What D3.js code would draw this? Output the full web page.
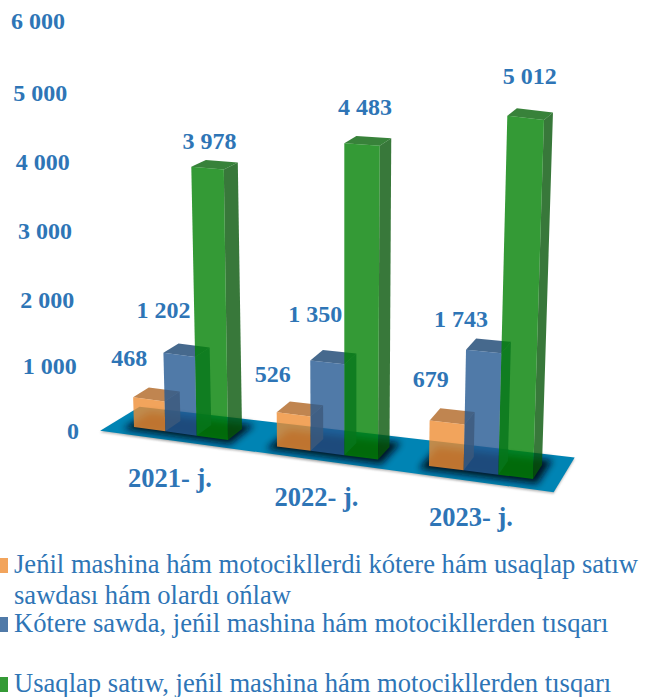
<!DOCTYPE html>
<html>
<head>
<meta charset="utf-8">
<script src="https://cdn.jsdelivr.net/npm/d3@7"></script>
<style>
body { margin: 0; background: #fff; }
text { font-family: "Liberation Serif", serif; fill: #2e75b6; }
.bold { font-weight: bold; }
</style>
</head>
<body>
<div id="chart"></div>
<script>
const years = ["2021- j.", "2022- j.", "2023- j."]
const orangeValues = [468, 526, 679]
const blueValues = [1202, 1350, 1743]
const greenValues = [3978, 4483, 5012]
const axisTicks = [0, 1000, 2000, 3000, 4000, 5000, 6000]
const legendLines = [
    ["Jeńil mashina hám motocikllerdi kótere hám usaqlap satıw", "sawdası hám olardı ońlaw"],
    ["Kótere sawda, jeńil mashina hám motocikllerden tısqarı"],
    ["Usaqlap satıw, jeńil mashina hám motocikllerden tısqarı"],
]

const width = 645, height = 697
const series = [
    {values: orangeValues, front: "#ef8d33", top: "#b06624", side: "#9c5a20", swatch: "#f2a45c"},
    {values: blueValues, front: "#245992", top: "#184470", side: "#1d4a7a", swatch: "#507aa8"},
    {values: greenValues, front: "#018104", top: "#066309", side: "#065609", swatch: "#349a36"},
]
const opacity = 0.8

// the picture is a perspective view, these scales stand in for the camera
const groupStart = [0, 4.5, 9]
const floorX = d3.scaleLinear().domain([0, 3, 4.5, 7.5, 9, 12]).range([134, 228, 277, 378, 429, 533])
const floorY = d3.scaleLinear().domain([0, 12]).range([427, 479])
const depthX = d3.scaleLinear().domain([3, 12]).range([14, 9])
const depthY = d3.scaleLinear().domain([3, 12]).range([11, 14])
const heightY = d3.scalePow().exponent(1.027).domain([0, 6000]).range([0, 410])
const stretch = d3.scaleLinear().domain([2, 11]).range([1, 1.053]).clamp(true)
const lean = d3.scaleLinear().domain([2, 6.5, 11]).range([-0.02, 0, 0.025])

function project(u, d, v) {
    const h = heightY(v) * stretch(u)
    const squeeze = 1 - 0.09 * v / 1000
    return [
        floorX(u) + depthX(u) * d + lean(u) * h,
        floorY(u) - depthY(u) * d * squeeze - h,
    ]
}
const poly = pts => pts.map(p => p.join(",")).join(" ")
const face = (u0, u1, d0, d1, v0, v1, sideFace) => sideFace
    ? [project(u1, d0, v0), project(u1, d1, v0), project(u1, d1, v1), project(u1, d0, v1)]
    : [project(u0, d0, v0), project(u1, d0, v0), project(u1, d1, v1), project(u0, d1, v1)]

const svg = d3.select("#chart").append("svg")
    .attr("width", width)
    .attr("height", height)

const defs = svg.append("defs")
defs.append("filter").attr("id", "soft").attr("x", "-20%").attr("y", "-50%").attr("width", "140%").attr("height", "200%")
    .append("feGaussianBlur").attr("stdDeviation", 3.5)
defs.append("filter").attr("id", "edge").attr("x", "-5%").attr("y", "-10%").attr("width", "110%").attr("height", "120%")
    .append("feGaussianBlur").attr("stdDeviation", 1)

// floor
const floor = [project(-0.72, -0.7, 0), project(12.77, -0.7, 0), project(12.77, 1.75, 0), project(-0.72, 1.75, 0)]
svg.append("polygon")
    .attr("points", poly(floor.map(p => [p[0], p[1] + 1.5])))
    .attr("fill", "#bbb")
    .attr("filter", "url(#edge)")
svg.append("polygon")
    .attr("points", poly(floor))
    .attr("fill", "#0084b4")

// shadow under each group of bars
svg.selectAll(".shadow")
    .data(groupStart)
    .join("polygon")
    .attr("class", "shadow")
    .attr("points", u => poly(face(u - 0.2, u + 3.2, -0.3, 1.4, 0, 0)))
    .attr("fill", "#00101c")
    .attr("opacity", 0.95)
    .attr("filter", "url(#soft)")

// bars, each series over the one before it
const bars = series.flatMap((s, j) => s.values.map((value, i) => ({
    value, s, u0: groupStart[i] + j, u1: groupStart[i] + j + 1,
})))
const bar = svg.selectAll(".bar")
    .data(bars)
    .join("g")
    .attr("class", "bar")
    .attr("fill-opacity", opacity)
bar.append("polygon")
    .attr("points", d => poly(face(d.u0, d.u1, 0, 1, 0, d.value, true)))
    .attr("fill", d => d.s.side)
bar.append("polygon")
    .attr("points", d => poly(face(d.u0, d.u1, 0, 1, d.value, d.value)))
    .attr("fill", d => d.s.top)
bar.append("polygon")
    .attr("points", d => poly(face(d.u0, d.u1, 0, 0, 0, d.value)))
    .attr("fill", d => d.s.front)

// value labels sit above the front of the bar, a few were moved by hand in the original
const nudges = [[[-4, 0], [-4, 1], [1, -2]], [[0, 0], [5, -3], [-5, 12]], [[2, -1], [3, -11], [4, -15]]]
const labelLift = [31, 35, 17]
const spaced = d3.format(",")
series.forEach((s, j) => {
    svg.selectAll(".value" + j)
        .data(s.values)
        .join("text")
        .attr("class", "bold value" + j)
        .attr("font-size", 24)
        .attr("text-anchor", "middle")
        .attr("x", (v, i) => {
            const u = groupStart[i] + j
            return project(u + (j === 2 ? 0.5 : 0), 0, v)[0] + nudges[j][i][0]
        })
        .attr("y", (v, i) => project(groupStart[i] + j, 0, v)[1] - labelLift[j] + nudges[j][i][1])
        .text(v => spaced(v).replace(",", " "))
})

// axis labels lean with the back wall
const axisX = d3.scaleLinear().domain([0, 6000]).range([79, 65])
svg.selectAll(".tick")
    .data(axisTicks)
    .join("text")
    .attr("class", "bold tick")
    .attr("font-size", 24)
    .attr("text-anchor", "end")
    .attr("x", axisX)
    .attr("y", v => 439 - heightY(v) + (v > 1000 && v < 6000 ? 1.5 : 0))
    .text(v => spaced(v).replace(",", " "))

// year labels
svg.selectAll(".year")
    .data(years)
    .join("text")
    .attr("class", "bold year")
    .attr("font-size", 26.5)
    .attr("text-anchor", "middle")
    .attr("x", (d, i) => floorX(groupStart[i] + 1.5) - 11 + (i === 2 ? 1 : 0))
    .attr("y", (d, i) => floorY(groupStart[i] + 1.5) + 53)
    .text(d => d)

// legend
const legendY = [573, 632, 692]
const legend = svg.selectAll(".legend")
    .data(legendLines)
    .join("g")
    .attr("class", "legend")
    .attr("transform", (d, i) => `translate(0, ${legendY[i]})`)
legend.append("rect")
    .attr("x", 0)
    .attr("y", -15)
    .attr("width", 8)
    .attr("height", 15)
    .attr("fill", (d, i) => series[i].swatch)
legend.selectAll("text")
    .data(d => d)
    .join("text")
    .attr("font-size", 26.6)
    .attr("x", 14)
    .attr("y", (d, i) => i * 31)
    .text(d => d)
</script>
</body>
</html>
